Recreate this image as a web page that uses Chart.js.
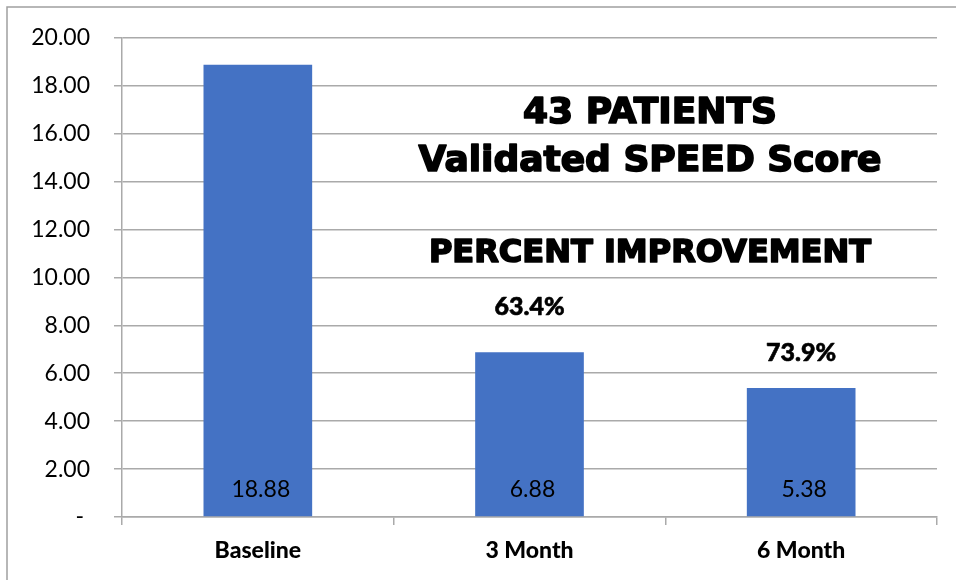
<!DOCTYPE html>
<html>
<head>
<meta charset="utf-8">
<script src="https://cdn.jsdelivr.net/npm/chart.js@4.4.1/dist/chart.umd.min.js"></script>
<style>
  html, body { margin: 0; padding: 0; background: #fff; }
  #wrap { width: 956px; height: 580px; position: relative; }
</style>
</head>
<body>
<div id="wrap"><canvas id="c" width="956" height="580"></canvas></div>
<script>
// Validated SPEED score, 43 patients
const categories = ['Baseline', '3 Month', '6 Month'];
const speedScores = [18.88, 6.88, 5.38];
const improvementLabels = ['', '63.4%', '73.9%'];
const headingLines = ['43 PATIENTS', 'Validated SPEED Score', 'PERCENT IMPROVEMENT'];
const yMin = 0, yMax = 20, yStep = 2;

const GRID = '#aaaaaa';
const BAR = '#4472C4';

const decorations = {
  id: 'decorations',
  beforeDraw(chart) {
    const ctx = chart.ctx;
    ctx.save();
    ctx.strokeStyle = '#a0a0a0';
    ctx.lineWidth = 1.5;
    ctx.beginPath();
    ctx.moveTo(7, chart.height + 2);
    ctx.lineTo(7, 7);
    ctx.lineTo(chart.width + 2, 7);
    ctx.stroke();
    ctx.restore();
  },
  afterDatasetsDraw(chart) {
    const ctx = chart.ctx;
    const bars = chart.getDatasetMeta(0).data;
    ctx.save();
    ctx.fillStyle = '#000';
    ctx.strokeStyle = '#000';
    ctx.lineJoin = 'round';
    ctx.textAlign = 'center';
    ctx.textBaseline = 'middle';

    // value labels at the foot of each bar
    ctx.font = '23px Lato';
    bars.forEach((bar, i) => {
      ctx.fillText(speedScores[i].toFixed(2), bar.x + 3, bar.base - 27);
    });

    // improvement labels above the follow-up bars
    const lift = [0, 45, 35];
    ctx.font = '900 25px Lato';
    ctx.lineWidth = 0.6;
    bars.forEach((bar, i) => {
      if (!improvementLabels[i]) return;
      ctx.fillText(improvementLabels[i], bar.x, bar.y - lift[i]);
      ctx.strokeText(improvementLabels[i], bar.x, bar.y - lift[i]);
    });

    // heading block
    ctx.textBaseline = 'alphabetic';
    ctx.lineWidth = 1.7;
    const heads = [
      { t: headingLines[0], y: 123, size: 36 },
      { t: headingLines[1], y: 171, size: 36 },
      { t: headingLines[2], y: 262, size: 32 }
    ];
    heads.forEach(h => {
      ctx.font = `bold ${h.size}px "DejaVu Sans"`;
      ctx.fillText(h.t, 650, h.y);
      ctx.strokeText(h.t, 650, h.y);
    });
    ctx.restore();
  }
};

new Chart(document.getElementById('c'), {
  type: 'bar',
  data: {
    labels: categories,
    datasets: [{
      data: speedScores,
      backgroundColor: BAR,
      borderWidth: 0,
      barPercentage: 0.4,
      categoryPercentage: 1.0
    }]
  },
  options: {
    responsive: false,
    animation: false,
    devicePixelRatio: 1,
    layout: { padding: { top: 37, right: 19, left: 0, bottom: 0 } },
    plugins: { legend: { display: false }, tooltip: { enabled: false } },
    scales: {
      y: {
        min: yMin, max: yMax,
        ticks: {
          stepSize: yStep,
          color: '#000',
          font: { family: 'Lato', size: 23 },
          padding: 24,
          callback: v => v === 0 ? '- ' : v.toFixed(2)
        },
        grid: { color: GRID, lineWidth: 1.5, tickLength: 8, drawTicks: true },
        border: { color: GRID, width: 1.5 },
        afterFit: s => { s.width = 122; }
      },
      x: {
        ticks: {
          color: '#000',
          font: { family: 'Lato', size: 23, weight: '900' },
          padding: 12
        },
        grid: { offset: true, drawOnChartArea: false, color: GRID, lineWidth: 1.5, tickLength: 8 },
        border: { color: GRID, width: 1.5 },
        afterFit: s => { s.height = 63; }
      }
    }
  },
  plugins: [decorations]
});
</script>
</body>
</html>
